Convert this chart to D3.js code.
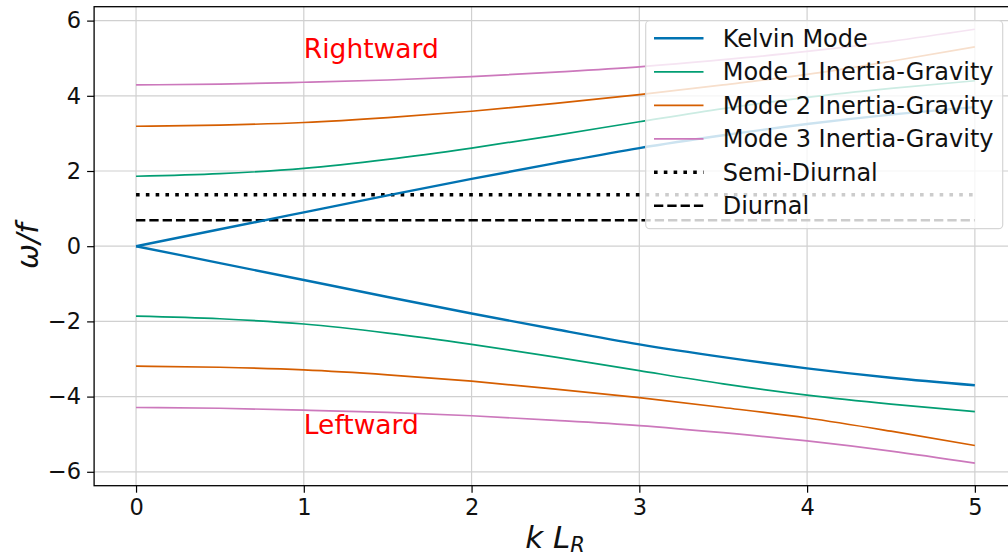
<!DOCTYPE html>
<html>
<head>
<meta charset="utf-8">
<script src="https://cdn.jsdelivr.net/npm/d3@7"></script>
<style>
  body { margin: 0; background: #fff; }
  svg { font-family: "DejaVu Sans", sans-serif; }
</style>
</head>
<body>
<div id="chart"></div>
<script>
// data
var kValues = [0, 0.5, 1, 1.5, 2, 2.5, 3, 3.5, 4, 4.5, 5]
var kelvinRight = [0, 0.45, 0.9, 1.35, 1.79, 2.21, 2.61, 2.95, 3.25, 3.5, 3.7]
var kelvinLeft = [0, -0.45, -0.9, -1.35, -1.79, -2.21, -2.61, -2.95, -3.25, -3.5, -3.7]
var mode1Right = [1.86, 1.93, 2.07, 2.31, 2.61, 2.95, 3.31, 3.66, 3.96, 4.2, 4.4]
var mode1Left = [-1.86, -1.93, -2.07, -2.31, -2.61, -2.95, -3.31, -3.66, -3.96, -4.2, -4.4]
var mode2Right = [3.19, 3.22, 3.29, 3.42, 3.59, 3.8, 4.03, 4.29, 4.57, 4.92, 5.3]
var mode2Left = [-3.19, -3.22, -3.29, -3.42, -3.59, -3.8, -4.03, -4.29, -4.57, -4.92, -5.3]
var mode3Right = [4.29, 4.31, 4.36, 4.42, 4.51, 4.63, 4.77, 4.96, 5.18, 5.45, 5.77]
var mode3Left = [-4.29, -4.31, -4.36, -4.42, -4.51, -4.63, -4.77, -4.96, -5.18, -5.45, -5.77]
var semiDiurnal = 1.37
var diurnal = 0.69
var xTicks = [0, 1, 2, 3, 4, 5]
var yTicks = [-6, -4, -2, 0, 2, 4, 6]
var legendNames = ["Kelvin Mode", "Mode 1 Inertia-Gravity", "Mode 2 Inertia-Gravity", "Mode 3 Inertia-Gravity", "Semi-Diurnal", "Diurnal"]

var width = 1008
var height = 558
var colors = ["#0173b2", "#029e73", "#d55e00", "#cc78bc"]

var svg = d3.select('#chart')
            .append('svg')
            .attr('width', width)
            .attr('height', height)

var xScale = d3.scaleLinear().domain([-0.25, 5.25]).range([94.1, 1016.8])
var yScale = d3.scaleLinear().domain([-6.37, 6.37]).range([485.7, 6.7])

// grid
svg.append('g').selectAll('line').data(xTicks).enter().append('line')
   .attr('x1', d => xScale(d)).attr('x2', d => xScale(d))
   .attr('y1', yScale.range()[1]).attr('y2', yScale.range()[0])
   .attr('stroke', '#d0d0d0').attr('stroke-width', 1.2)
svg.append('g').selectAll('line').data(yTicks).enter().append('line')
   .attr('y1', d => yScale(d)).attr('y2', d => yScale(d))
   .attr('x1', xScale.range()[0]).attr('x2', xScale.range()[1])
   .attr('stroke', '#d0d0d0').attr('stroke-width', 1.2)

// axes
var xAxis = d3.axisBottom(xScale).tickValues(xTicks).tickSize(7).tickPadding(6).tickFormat(d3.format('d'))
var yAxis = d3.axisLeft(yScale).tickValues(yTicks).tickSize(7).tickPadding(6).tickFormat(d3.format('d'))

var gx = svg.append('g').attr('transform', 'translate(0,' + yScale.range()[0] + ')').call(xAxis)
var gy = svg.append('g').attr('transform', 'translate(' + xScale.range()[0] + ',0)').call(yAxis)
;[gx, gy].forEach(g => {
  g.select('.domain').remove()
  g.selectAll('.tick line').attr('stroke', '#000').attr('stroke-width', 1.2)
  g.selectAll('.tick text').attr('font-size', 22.5).attr('fill', '#111').attr('font-family', 'DejaVu Sans')
})

// lines
var line = d3.line()
             .x((d, i) => xScale(kValues[i]))
             .y(d => yScale(d))
             .curve(d3.curveMonotoneX)

var plotG = svg.append('g')

function hline (val, dash, w) {
  plotG.append('line')
       .attr('x1', xScale(0)).attr('x2', xScale(5))
       .attr('y1', yScale(val)).attr('y2', yScale(val))
       .attr('stroke', '#000').attr('stroke-width', w)
       .attr('stroke-dasharray', dash)
}
hline(semiDiurnal, '3.6,6.2', 3.6)
hline(diurnal, '9.3,4', 2.5)

var series = [
  [kelvinRight, kelvinLeft, colors[0], 2.4],
  [mode1Right, mode1Left, colors[1], 1.7],
  [mode2Right, mode2Left, colors[2], 1.7],
  [mode3Right, mode3Left, colors[3], 1.7]
]
series.forEach(s => {
  plotG.append('path').datum(s[0]).attr('d', line)
       .attr('fill', 'none').attr('stroke', s[2]).attr('stroke-width', s[3])
  plotG.append('path').datum(s[1]).attr('d', line)
       .attr('fill', 'none').attr('stroke', s[2]).attr('stroke-width', s[3])
})

// spines
svg.append('rect')
   .attr('x', xScale.range()[0]).attr('y', yScale.range()[1])
   .attr('width', xScale.range()[1] - xScale.range()[0])
   .attr('height', yScale.range()[0] - yScale.range()[1])
   .attr('fill', 'none').attr('stroke', '#000').attr('stroke-width', 1.3)

// annotations
svg.append('text').attr('x', xScale(1)).attr('y', yScale(5))
   .attr('fill', 'red').attr('font-size', 26.5).text('Rightward')
svg.append('text').attr('x', xScale(1)).attr('y', yScale(-5))
   .attr('fill', 'red').attr('font-size', 26.5).text('Leftward')

// axis labels
svg.append('text').attr('transform', 'translate(38,' + 246 + ') rotate(-90)')
   .attr('text-anchor', 'middle').attr('font-size', 30).attr('font-style', 'italic')
   .attr('fill', '#111').text('ω/f')

var xl = svg.append('text').attr('x', 555).attr('y', 548)
            .attr('text-anchor', 'middle').attr('font-size', 31).attr('font-style', 'italic')
            .attr('fill', '#111')
xl.append('tspan').text('k L')
xl.append('tspan').attr('font-size', 21).attr('dy', 4).text('R')

// legend
var legend = svg.append('g')
legend.append('rect')
      .attr('x', 645.7).attr('y', 20.7).attr('width', 357).attr('height', 208)
      .attr('rx', 4).attr('fill', 'white').attr('fill-opacity', 0.8)
      .attr('stroke', '#d6d6d6').attr('stroke-width', 1.2)
var legendStyles = [
  [colors[0], 2.4, null],
  [colors[1], 1.7, null],
  [colors[2], 1.7, null],
  [colors[3], 1.7, null],
  ['#000', 3.6, '3.6,6.2'],
  ['#000', 2.5, '9.3,4']
]
legendNames.forEach((name, i) => {
  var cy = 38.3 + i * 33.5
  legend.append('line').attr('x1', 654).attr('x2', 703.5)
        .attr('y1', cy).attr('y2', cy)
        .attr('stroke', legendStyles[i][0]).attr('stroke-width', legendStyles[i][1])
        .attr('stroke-dasharray', legendStyles[i][2])
  legend.append('text').attr('x', 722.7).attr('y', cy + 8.6)
        .attr('font-size', 24).attr('fill', '#111').text(name)
})
</script>
</body>
</html>
